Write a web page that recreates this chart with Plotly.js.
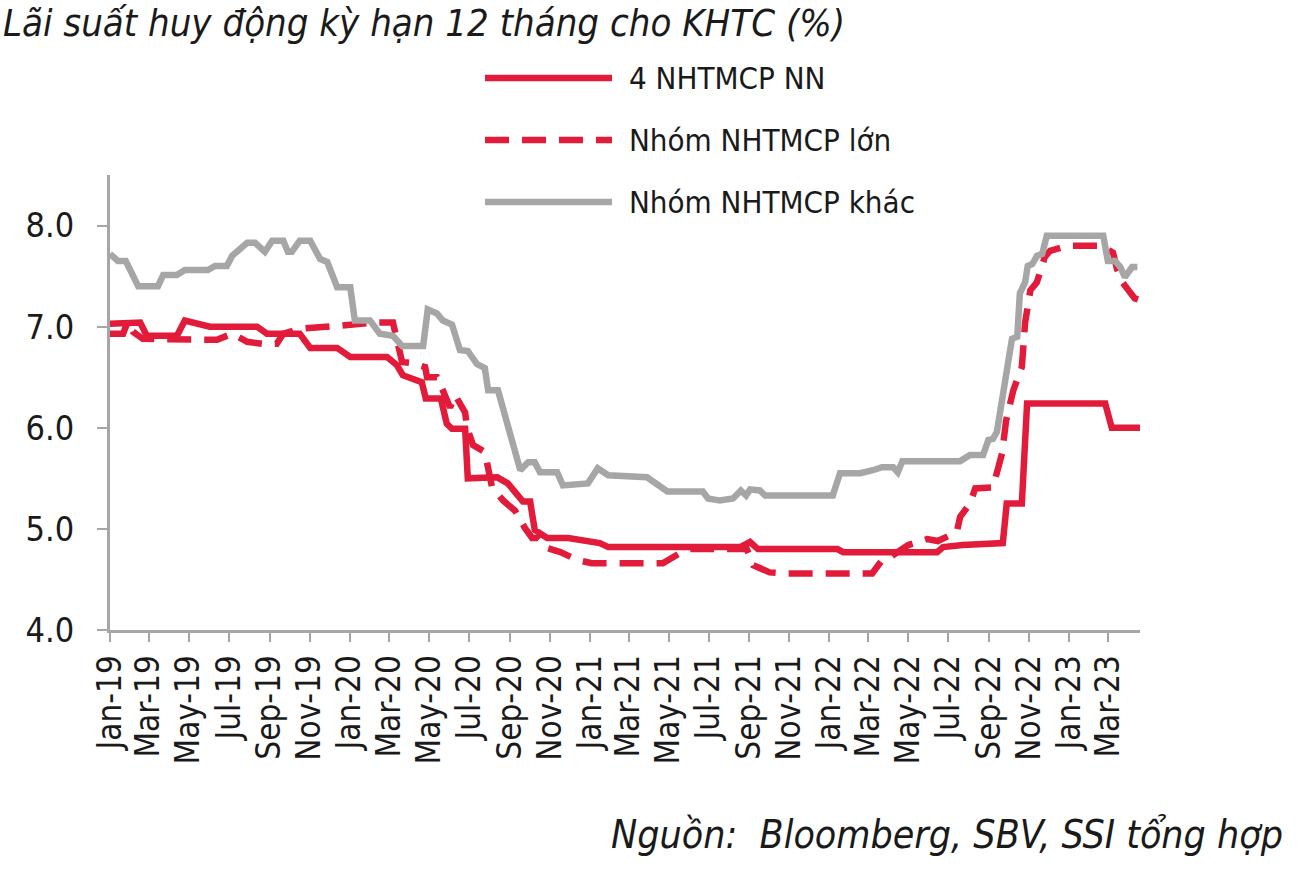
<!DOCTYPE html>
<html>
<head>
<meta charset="utf-8">
<script src="https://cdn.plot.ly/plotly-3.0.1.min.js"></script>
<style>html,body{margin:0;padding:0;background:#fff;}#chart{width:1298px;height:872px;}</style>
</head>
<body>
<div id="chart"></div>
<script>
// ---- Data ----
const seriesNames = ["4 NHTMCP NN", "Nhóm NHTMCP lớn", "Nhóm NHTMCP khác"];

const soeDates = ['2019-01-01','2019-01-25','2019-02-16','2019-02-26','2019-04-13','2019-04-25','2019-06-02','2019-08-13','2019-08-28','2019-10-17','2019-11-02','2019-12-13','2020-01-02','2020-02-27','2020-03-13','2020-03-22','2020-04-02','2020-04-20','2020-04-26','2020-05-19','2020-05-28','2020-06-05','2020-06-25','2020-06-29','2020-08-13','2020-08-29','2020-09-21','2020-10-02','2020-10-09','2020-10-28','2020-11-29','2021-01-01','2021-01-16','2021-01-29','2021-08-18','2021-09-02','2021-09-14','2022-01-13','2022-01-22','2022-06-14','2022-06-23','2022-07-23','2022-09-22','2022-09-28','2022-10-21','2022-10-29','2023-02-25','2023-03-07','2023-04-19'];
const soeValues = [7.03,7.03,7.04,6.91,6.91,7.06,7.00,7.00,6.93,6.93,6.79,6.79,6.70,6.70,6.62,6.52,6.49,6.45,6.29,6.29,6.04,5.99,5.99,5.50,5.51,5.45,5.27,5.27,4.99,4.91,4.91,4.87,4.86,4.82,4.82,4.87,4.80,4.80,4.77,4.77,4.82,4.84,4.86,5.25,5.25,6.24,6.24,6.00,6.00];

const largeDates = ['2019-01-01','2019-01-21','2019-01-28','2019-02-05','2019-02-20','2019-04-18','2019-05-14','2019-06-13','2019-07-06','2019-07-29','2019-08-22','2019-09-12','2019-09-22','2019-10-17','2019-12-17','2020-02-06','2020-03-07','2020-03-21','2020-04-05','2020-04-25','2020-04-28','2020-05-13','2020-05-22','2020-06-02','2020-06-10','2020-06-25','2020-06-28','2020-07-07','2020-07-25','2020-07-30','2020-08-05','2020-08-22','2020-09-09','2020-09-24','2020-10-05','2020-10-14','2020-10-28','2020-11-17','2020-12-14','2021-01-04','2021-04-22','2021-05-18','2021-06-03','2021-08-28','2021-09-07','2021-10-02','2021-10-22','2022-03-07','2022-03-22','2022-04-03','2022-05-01','2022-05-30','2022-06-15','2022-07-14','2022-07-19','2022-08-03','2022-08-11','2022-09-07','2022-09-13','2022-09-21','2022-09-27','2022-10-08','2022-10-21','2022-10-26','2022-11-03','2022-11-13','2022-11-25','2022-12-03','2022-12-29','2023-02-20','2023-03-09','2023-03-15','2023-03-23','2023-04-11','2023-04-16'];
const largeValues = [6.93,6.93,7.05,6.95,6.88,6.88,6.87,6.87,6.93,6.85,6.83,6.83,6.93,6.98,7.01,7.04,7.04,6.65,6.64,6.60,6.50,6.50,6.37,6.20,6.32,6.15,6.00,5.83,5.76,5.56,5.41,5.28,5.18,5.01,4.91,4.91,4.81,4.77,4.69,4.66,4.66,4.76,4.80,4.80,4.64,4.57,4.56,4.56,4.69,4.72,4.84,4.90,4.88,4.97,5.12,5.25,5.40,5.41,5.56,5.75,6.07,6.37,6.60,7.04,7.36,7.44,7.69,7.75,7.80,7.80,7.73,7.57,7.44,7.28,7.27];

const otherDates = ['2019-01-01','2019-01-13','2019-01-25','2019-02-13','2019-03-15','2019-03-23','2019-04-13','2019-04-25','2019-05-30','2019-06-10','2019-06-28','2019-07-06','2019-07-29','2019-08-10','2019-08-25','2019-09-05','2019-09-22','2019-09-29','2019-10-05','2019-10-17','2019-11-02','2019-11-17','2019-11-28','2019-12-13','2020-01-02','2020-01-09','2020-02-01','2020-02-16','2020-03-07','2020-03-21','2020-04-22','2020-04-29','2020-05-13','2020-05-22','2020-06-05','2020-06-17','2020-06-29','2020-07-13','2020-07-25','2020-07-30','2020-08-14','2020-09-17','2020-09-29','2020-10-09','2020-10-17','2020-11-12','2020-11-21','2020-12-29','2021-01-13','2021-01-29','2021-03-29','2021-04-29','2021-06-22','2021-06-30','2021-07-18','2021-08-07','2021-08-19','2021-08-27','2021-09-02','2021-09-17','2021-09-25','2022-01-06','2022-01-17','2022-02-17','2022-03-08','2022-03-22','2022-04-08','2022-04-15','2022-04-22','2022-07-19','2022-08-03','2022-08-23','2022-08-31','2022-09-07','2022-09-13','2022-09-21','2022-09-30','2022-10-06','2022-10-14','2022-10-18','2022-10-26','2022-10-30','2022-11-06','2022-11-13','2022-11-21','2022-11-28','2023-02-22','2023-03-01','2023-03-12','2023-03-20','2023-03-27','2023-04-07','2023-04-15'];
const otherValues = [7.72,7.65,7.65,7.40,7.40,7.51,7.51,7.56,7.56,7.60,7.60,7.70,7.83,7.83,7.74,7.85,7.85,7.74,7.74,7.85,7.85,7.67,7.64,7.39,7.39,7.06,7.06,6.93,6.91,6.81,6.81,7.17,7.13,7.06,7.02,6.77,6.76,6.63,6.59,6.37,6.37,5.58,5.66,5.66,5.56,5.56,5.43,5.45,5.60,5.53,5.51,5.37,5.37,5.30,5.28,5.30,5.38,5.33,5.39,5.38,5.33,5.33,5.55,5.55,5.58,5.61,5.61,5.56,5.67,5.67,5.73,5.73,5.88,5.89,5.96,6.27,6.70,6.88,6.90,7.33,7.44,7.60,7.62,7.70,7.72,7.90,7.90,7.65,7.65,7.59,7.49,7.59,7.59];

const yTicks = [4, 5, 6, 7, 8];
const titleText = "Lãi suất huy động kỳ hạn 12 tháng cho KHTC (%)";
const sourceText = "Nguồn:  Bloomberg, SBV, SSI tổng hợp";

// ---- Styles ----
const RED = '#E31B3A';
const GREY = '#A6A6A6';
const FONT = '"DejaVu Sans Condensed", "Liberation Sans Narrow", sans-serif';
const TXT = '#1a1a1a';

const traces = [
  {x: soeDates, y: soeValues, name: seriesNames[0], type: 'scatter', mode: 'lines',
   line: {color: RED, width: 6.5}},
  {x: largeDates, y: largeValues, name: seriesNames[1], type: 'scatter', mode: 'lines',
   line: {color: RED, width: 6.5, dash: '24px,13px'}},
  {x: otherDates, y: otherValues, name: seriesNames[2], type: 'scatter', mode: 'lines',
   line: {color: GREY, width: 6.5}}
];

// legend drawn manually (long line samples)
const legY = [1.2132, 1.0769, 0.9407];
const legDash = ['solid', '24px,13px', 'solid'];
const legColor = [RED, RED, GREY];
const shapes = [];
const annotations = [];
for (let i = 0; i < 3; i++) {
  shapes.push({type: 'line', xref: 'paper', yref: 'paper', x0: 0.3641, x1: 0.4874, y0: legY[i], y1: legY[i],
    line: {color: legColor[i], width: 6.5, dash: legDash[i]}});
  annotations.push({xref: 'paper', yref: 'paper', x: 0.5019, y: legY[i], xanchor: 'left', yanchor: 'middle',
    text: seriesNames[i], showarrow: false, font: {family: FONT, size: 31, color: TXT}});
}
annotations.push({xref: 'paper', yref: 'paper', x: -0.1058, y: 1.335, xanchor: 'left', yanchor: 'middle',
  text: titleText, showarrow: false, font: {family: FONT, size: 38, color: TXT, style: 'italic'}});
annotations.push({xref: 'paper', yref: 'paper', x: 1.1408, y: -0.4505, xanchor: 'right', yanchor: 'middle',
  text: sourceText, showarrow: false, font: {family: FONT, size: 39, color: TXT, style: 'italic'}});

const layout = {
  width: 1298, height: 872,
  margin: {l: 110, r: 158, t: 175, b: 242, pad: 0},
  paper_bgcolor: '#ffffff', plot_bgcolor: '#ffffff',
  showlegend: false,
  xaxis: {
    type: 'date', range: ['2019-01-01', '2023-04-19'],
    tick0: '2019-01-01', dtick: 'M2', tickformat: '%b-%y', tickangle: -90,
    showgrid: false, zeroline: false, showline: true, linecolor: GREY, linewidth: 3,
    ticks: 'outside', ticklen: 9, tickwidth: 2, tickcolor: GREY,
    tickfont: {family: FONT, size: 33, color: TXT}, automargin: false
  },
  yaxis: {
    range: [4, 8.5], tickvals: yTicks, tickformat: '.1f',
    showgrid: false, zeroline: false, showline: true, linecolor: GREY, linewidth: 3,
    ticks: 'outside', ticklen: 10, tickwidth: 2, tickcolor: GREY,
    tickfont: {family: FONT, size: 34, color: TXT}, ticklabelstandoff: 16, automargin: false
  },
  shapes: shapes,
  annotations: annotations
};

Plotly.newPlot('chart', traces, layout, {displayModeBar: false, responsive: false});
</script>
</body>
</html>
